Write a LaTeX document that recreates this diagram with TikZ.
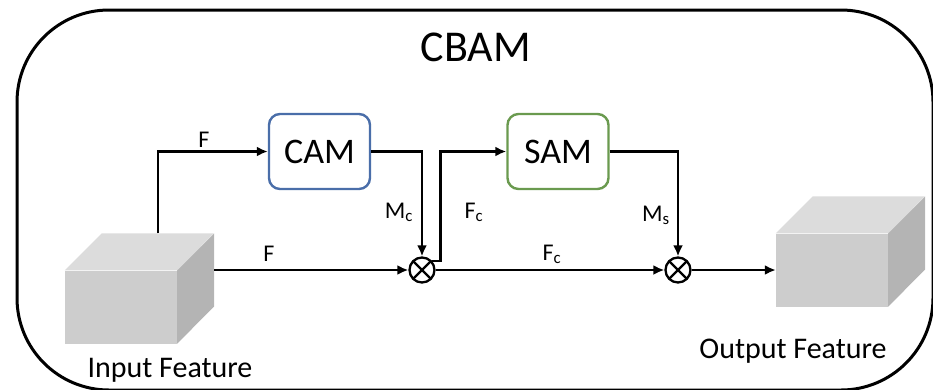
\documentclass[tikz,border=0pt]{standalone}
\usepackage{fontspec}
\setmainfont{Carlito}
\usetikzlibrary{arrows.meta,positioning}
\definecolor{camblue}{HTML}{4A6EA9}
\definecolor{samgreen}{HTML}{6A9A4F}
\definecolor{cubefront}{HTML}{CDCDCD}
\definecolor{cubetop}{HTML}{DCDCDC}
\definecolor{cubeside}{HTML}{B4B4B4}

\begin{document}
\begin{tikzpicture}[x=1pt,y=-1pt,
  every node/.style={font=\fontsize{24}{28}\selectfont,inner sep=1pt},
  block/.style={draw,line width=2.4pt,rounded corners=11pt,fill=white,
               minimum width=101pt,minimum height=75pt,
               font=\fontsize{36}{40}\selectfont},
  mult/.style={circle,draw,line width=2.3pt,minimum size=25pt,inner sep=0pt,
              path picture={\draw[line width=2.3pt]
                (path picture bounding box.north west) -- (path picture bounding box.south east)
                (path picture bounding box.north east) -- (path picture bounding box.south west);}},
  face/.style={fill=cubefront,minimum width=112pt,minimum height=73pt,inner sep=0pt},
  feat/.style={font=\fontsize{30}{34}\selectfont,anchor=base},
  lbl/.style={anchor=base},
  arr/.style={-{Latex[length=11pt,width=10pt]},line width=2.4pt}
]
\useasboundingbox (0,0) rectangle (933,389);
\draw[line width=3pt,rounded corners=92pt] (17,10) rectangle (933,390);
\node[font=\fontsize{44}{48}\selectfont,anchor=base] (title) at (476,61) {CBAM};

% input and output cubes
\node[face] (in) at (121,307) {};
\fill[cubetop] (in.north west) -- ++(37,-37) -- ++(112,0) -- (in.north east) -- cycle;
\fill[cubeside] (in.north east) -- ++(37,-37) -- ++(0,73) -- (in.south east) -- cycle;
\path (in.north) ++(37,-37) coordinate (intop);
\path (in.east) ++(37,-37) coordinate (inback);
\node[face] (out) at (832,270) {};
\fill[cubetop] (out.north west) -- ++(37,-37) -- ++(112,0) -- (out.north east) -- cycle;
\fill[cubeside] (out.north east) -- ++(37,-37) -- ++(0,73) -- (out.south east) -- cycle;
\node[feat] (inlbl) at (170,377) {Input Feature};
\node[feat] (outlbl) at (793,358) {Output Feature};

% attention modules
\node[block,draw=camblue] (cam) at (319.5,151.5) {CAM};
\node[block,draw=samgreen] (sam) at (558,151.5) {SAM};
\node[mult] (mult1) at (422,270) {};
\node[mult] (mult2) at (678,270) {};

\draw[arr] (intop) |- (cam.west);
\draw[arr] (inback) -- (mult1);
\draw[arr] (cam.east) -| (mult1.north);
\draw[arr] (mult1.40) -- ++(8,0) |- (sam.west);
\draw[arr] (mult1) -- (mult2);
\draw[arr] (sam.east) -| (mult2.north);
\draw[arr] (mult2) -- (out.west);

\node[lbl] (f1) at (204,147) {F};
\node[lbl] (f2) at (269,261) {F};
\node[lbl] (mc) at (399,218) {M\textsubscript{c}};
\node[lbl] (fc1) at (474,218) {F\textsubscript{c}};
\node[lbl] (fc2) at (552,260) {F\textsubscript{c}};
\node[lbl] (ms) at (656,221) {M\textsubscript{s}};
\end{tikzpicture}
\end{document}
